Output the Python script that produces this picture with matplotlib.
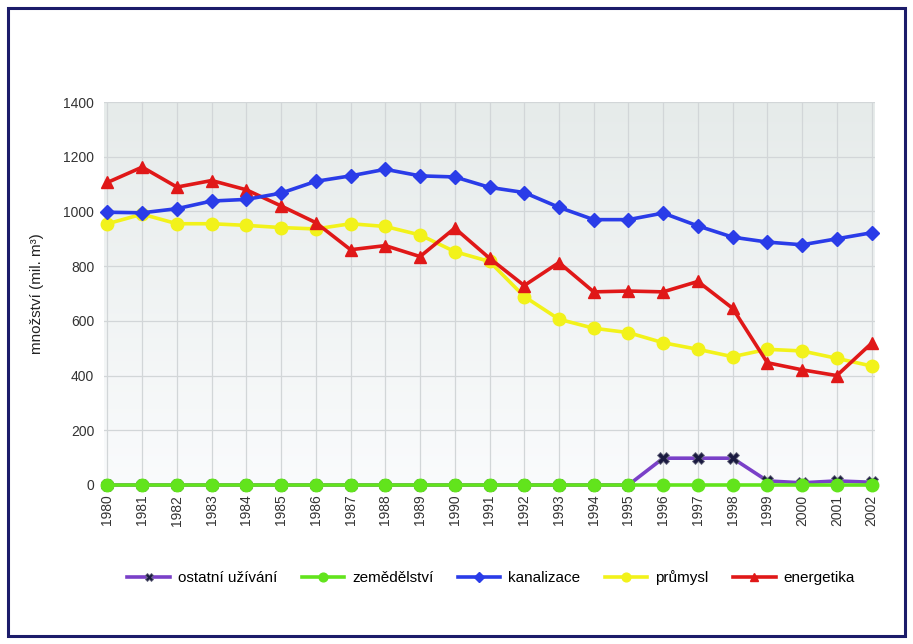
import numpy as np
import matplotlib
matplotlib.use("Agg")
import matplotlib.pyplot as plt
from matplotlib.patches import Rectangle

plt.rcParams['font.family'] = ['Liberation Sans', 'DejaVu Sans']

years = list(range(1980, 2003))

ostatni = [0, 0, 0, 0, 0, 0, 0, 0, 0, 0, 0, 0, 0, 0, 0, 0,
           98, 98, 98, 15, 8, 15, 10]
zemedelstvi = [0] * 23
kanalizace = [997, 995, 1010, 1038, 1044, 1067, 1110, 1130, 1154, 1130, 1126,
              1088, 1069, 1015, 970, 970, 994, 947, 906, 888, 878, 900, 922]
prumysl = [955, 990, 955, 955, 949, 941, 936, 955, 945, 914, 853,
           817, 689, 606, 573, 557, 520, 496, 469, 496, 490, 463, 435]
energetika = [1106, 1162, 1089, 1113, 1079, 1020, 959, 860, 875, 835, 939,
              829, 729, 813, 706, 709, 706, 744, 646, 447, 421, 400, 518]

yticks = [0, 200, 400, 600, 800, 1000, 1200, 1400]

fig = plt.figure(figsize=(9.13, 6.44), dpi=100)
fig.patch.set_facecolor('white')

# outer frame
fig.patches.append(Rectangle((8 / 913, 8 / 644), 897 / 913, 628 / 644,
                             transform=fig.transFigure, fill=False,
                             edgecolor='#1c1c6a', linewidth=2.2))

ax = fig.add_axes([104 / 913, (644 - 485) / 644, 771 / 913, (485 - 102) / 644])
ax.set_xlim(1979.9, 2002.1)
ax.set_ylim(0, 1400)

# vertical gradient background of the plot area
grad = np.linspace(0, 1, 256).reshape(-1, 1)
top = np.array([0.902, 0.922, 0.918])
bottom = np.array([0.98, 0.985, 0.99])
img = bottom + (top - bottom) * grad
ax.imshow(img[:, None, :].repeat(2, axis=1), extent=[1979.9, 2002.1, 0, 1400],
          origin='lower', aspect='auto', zorder=0)

ax.set_xticks(years)
ax.set_xticklabels([str(y) for y in years], rotation=90, fontsize=10, color='#333333')
ax.set_yticks(yticks)
ax.set_yticklabels([str(v) for v in yticks], fontsize=10, color='#333333')
ax.tick_params(length=0, pad=7)
ax.grid(True, color='#d2d6d8', linewidth=0.9, zorder=1)
for s in ax.spines.values():
    s.set_visible(False)

lw = 2.6
ax.plot(years, energetika, color='#e01818', lw=lw, marker='^', ms=9,
        zorder=5, clip_on=False, label='energetika')
ax.plot(years, prumysl, color='#f2f21a', lw=lw, marker='o', ms=9,
        zorder=4, clip_on=False, label='průmysl')
ax.plot(years, kanalizace, color='#2a3ce8', lw=lw, marker='D', ms=7,
        zorder=6, clip_on=False, label='kanalizace')
ax.plot(years, ostatni, color='#7a40c8', lw=lw, marker='X', ms=9,
        markerfacecolor='#1a1a40', markeredgecolor='#6a6a80', markeredgewidth=0.6,
        zorder=3, clip_on=False, label='ostatní užívání')
ax.plot(years, zemedelstvi, color='#62e41c', lw=lw, marker='o', ms=9,
        zorder=4, clip_on=False, label='zemědělství')

ax.set_ylabel('množství (mil. m³)', fontsize=11, color='#222222', labelpad=14)

handles, labels = ax.get_legend_handles_labels()
order = [3, 4, 2, 1, 0]
fig.legend([handles[i] for i in order], [labels[i] for i in order],
           loc='center', bbox_to_anchor=(491 / 913, 1 - 578 / 644), ncol=5,
           frameon=False, fontsize=11, handlelength=2.8, handletextpad=0.5,
           columnspacing=1.6, markerscale=0.7)

fig.savefig('out.png', dpi=100)
